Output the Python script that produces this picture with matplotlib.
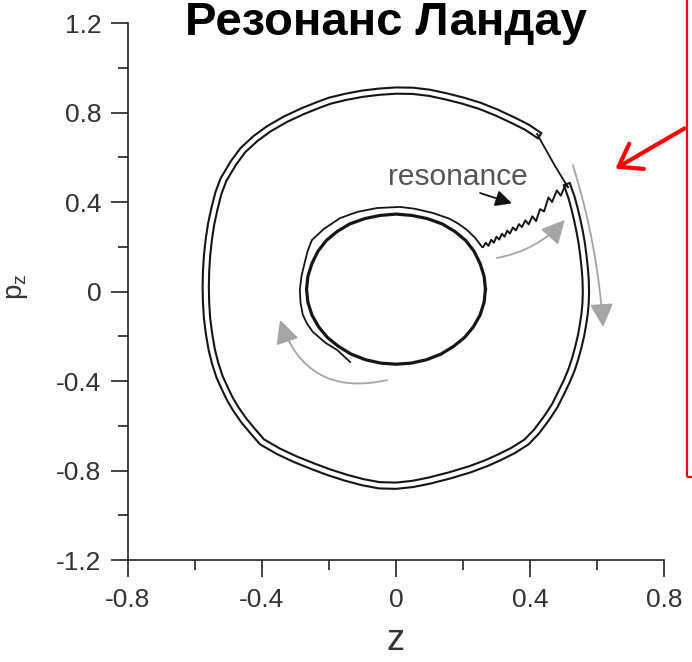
import matplotlib

matplotlib.use("Agg")
import matplotlib.pyplot as plt
import matplotlib.patheffects as pe
from matplotlib.patches import Rectangle, FancyArrowPatch

plt.rcParams["font.family"] = ["Liberation Sans", "DejaVu Sans"]
plt.rcParams["mathtext.fontset"] = "custom"
plt.rcParams["mathtext.rm"] = "Liberation Sans"
plt.rcParams["axes.unicode_minus"] = False

# оси
x_ticks = [-0.8, -0.4, 0.0, 0.4, 0.8]
x_tick_labels = ["-0.8", "-0.4", "0", "0.4", "0.8"]
x_minor = [-0.6, -0.2, 0.2, 0.6]
y_ticks = [-1.2, -0.8, -0.4, 0.0, 0.4, 0.8, 1.2]
y_tick_labels = ["-1.2", "-0.8", "-0.4", "0", "0.4", "0.8", "1.2"]
y_minor = [-1.0, -0.6, -0.2, 0.2, 0.6, 1.0]

# внешняя траектория (двойная линия), по часовой от точки резонанса
outer_z = [0.513, 0.524, 0.533, 0.541, 0.548, 0.554, 0.559, 0.563, 0.566, 0.567,
           0.566, 0.563, 0.558, 0.552, 0.544, 0.535, 0.524, 0.510, 0.494, 0.474,
           0.450, 0.420, 0.390, 0.350, 0.310, 0.270, 0.220, 0.160, 0.100, 0.050,
           0.000, -0.050, -0.100, -0.150, -0.200, -0.250, -0.300, -0.350, -0.400, -0.430,
           -0.455, -0.478, -0.496, -0.512, -0.527, -0.540, -0.550, -0.558, -0.564, -0.567,
           -0.568, -0.567, -0.564, -0.559, -0.552, -0.542, -0.530, -0.515, -0.485, -0.457,
           -0.420, -0.380, -0.330, -0.280, -0.230, -0.197, -0.150, -0.100, -0.050, 0.000,
           0.050, 0.100, 0.150, 0.200, 0.250, 0.300, 0.350, 0.390, 0.421]
outer_p = [0.467, 0.420, 0.370, 0.320, 0.270, 0.220, 0.165, 0.110, 0.055, 0.000,
           -0.050, -0.100, -0.150, -0.200, -0.250, -0.300, -0.350, -0.400, -0.450, -0.510,
           -0.565, -0.625, -0.672, -0.710, -0.740, -0.767, -0.795, -0.822, -0.845, -0.860,
           -0.868, -0.866, -0.852, -0.832, -0.808, -0.780, -0.750, -0.715, -0.672, -0.620,
           -0.575, -0.525, -0.480, -0.430, -0.380, -0.320, -0.260, -0.190, -0.120, -0.050,
           0.020, 0.090, 0.160, 0.230, 0.300, 0.370, 0.440, 0.500, 0.575, 0.632,
           0.683, 0.727, 0.770, 0.805, 0.835, 0.853, 0.870, 0.884, 0.893, 0.898,
           0.897, 0.888, 0.872, 0.853, 0.830, 0.800, 0.765, 0.735, 0.704]
# одинарный участок перед точкой резонанса
tail_z = [0.421, 0.445, 0.475, 0.513]
tail_p = [0.704, 0.640, 0.560, 0.467]

# внутренняя орбита
inner_z = [0.267, 0.263, 0.251, 0.233, 0.208, 0.176, 0.138, 0.093, 0.047, 0.000,
           -0.047, -0.093, -0.138, -0.176, -0.208, -0.233, -0.251, -0.263, -0.267, -0.263,
           -0.251, -0.231, -0.205, -0.172, -0.134, -0.091, -0.046, 0.000, 0.046, 0.091,
           0.134, 0.172, 0.205, 0.231, 0.251, 0.263, 0.267]
inner_p = [0.010, 0.068, 0.125, 0.180, 0.228, 0.268, 0.302, 0.326, 0.340, 0.346,
           0.340, 0.326, 0.302, 0.268, 0.228, 0.180, 0.125, 0.068, 0.010, -0.048,
           -0.105, -0.158, -0.205, -0.245, -0.280, -0.305, -0.320, -0.325, -0.320, -0.305,
           -0.280, -0.245, -0.205, -0.158, -0.105, -0.048, 0.010]
# вторая линия вокруг внутренней орбиты (слева сверху)
side_z = [0.257, 0.236, 0.212, 0.186, 0.160, 0.110, 0.055, 0.012, -0.057, -0.115,
          -0.167, -0.215, -0.251, -0.264, -0.272, -0.282, -0.287, -0.285, -0.278, -0.265,
          -0.248, -0.210, -0.176, -0.137]
side_p = [0.199, 0.240, 0.275, 0.303, 0.325, 0.351, 0.370, 0.378, 0.373, 0.356,
          0.328, 0.280, 0.230, 0.180, 0.132, 0.070, 0.007, -0.050, -0.105, -0.145,
          -0.181, -0.230, -0.261, -0.315]

# резонансный переход (зигзаг)
res_z = [0.260, 0.268, 0.276, 0.284, 0.292, 0.300, 0.308, 0.316, 0.324, 0.332,
         0.340, 0.349, 0.358, 0.367, 0.376, 0.386, 0.396, 0.407, 0.418, 0.430,
         0.442, 0.455, 0.466, 0.480, 0.492, 0.505, 0.513]
res_p = [0.199, 0.218, 0.204, 0.231, 0.218, 0.245, 0.232, 0.258, 0.245, 0.272,
         0.259, 0.286, 0.273, 0.301, 0.288, 0.318, 0.300, 0.336, 0.315, 0.368,
         0.358, 0.420, 0.400, 0.452, 0.428, 0.475, 0.467]

# серые стрелки: (хвост, острие, кривизна)
flow_arrows = [
    ((-0.027, -0.396), (-0.346, -0.127), -0.45),
    ((0.301, 0.150), (0.504, 0.320), 0.17),
    ((0.528, 0.565), (0.618, -0.159), -0.06),
]
res_label = "resonance"
res_label_pos = (0.185, 0.512)
res_arrow = ((0.251, 0.440), (0.346, 0.394))

fig = plt.figure(figsize=(6.92, 6.62), dpi=100)
ax = fig.add_axes([128 / 692, 102 / 662, 536 / 692, 537 / 662])

dark = "#151515"
ax.plot(outer_z, outer_p, color="white", lw=3.0, solid_joinstyle="round",
        path_effects=[pe.Stroke(linewidth=6.0, foreground=dark), pe.Normal()])
ax.plot(tail_z, tail_p, color=dark, lw=1.3)
ax.plot(side_z, side_p, color=dark, lw=1.3, solid_joinstyle="round")
ax.plot(inner_z, inner_p, color=dark, lw=2.3, solid_joinstyle="round")
ax.plot(res_z, res_p, color=dark, lw=1.4)

for (tz, tp), (hz, hp), rad in flow_arrows:
    ax.annotate("", xy=(hz, hp), xytext=(tz, tp),
                arrowprops=dict(arrowstyle="-|>,head_length=0.9,head_width=0.45",
                                color="#a5a5a5", lw=1.3, shrinkA=0, shrinkB=0,
                                mutation_scale=16,
                                connectionstyle=f"arc3,rad={rad}"))

ax.text(*res_label_pos, res_label, fontsize=21.5, color="#555555",
        ha="center", va="center")
ax.annotate("", xy=res_arrow[1], xytext=res_arrow[0],
            arrowprops=dict(arrowstyle="-|>,head_length=0.7,head_width=0.35",
                            color="#111111", lw=1.3, shrinkA=0, shrinkB=0,
                            mutation_scale=14))

ax.set_xlim(-0.8, 0.8)
ax.set_ylim(-1.2, 1.2)
ax.set_xticks(x_ticks)
ax.set_xticklabels(x_tick_labels)
ax.set_xticks(x_minor, minor=True)
ax.set_yticks(y_ticks)
ax.set_yticklabels(y_tick_labels)
ax.set_yticks(y_minor, minor=True)
ax.spines["top"].set_visible(False)
ax.spines["right"].set_visible(False)
for s in ("left", "bottom"):
    ax.spines[s].set_color("#222222")
    ax.spines[s].set_linewidth(1.2)
ax.tick_params(which="major", direction="out", length=12, width=1.2,
               color="#222222", labelsize=19, labelcolor="#333333")
ax.tick_params(which="minor", direction="out", length=7, width=1.2, color="#222222")
ax.tick_params(axis="y", which="major", pad=7)
ax.tick_params(axis="x", which="major", pad=8)

ax.set_xlabel("z", fontsize=26, color="#333333", va="center")
ax.xaxis.set_label_coords(0.5, -0.149)
ax.set_ylabel(r"$\mathregular{p_z}$", fontsize=20, color="#333333",
              va="center", ha="center")
ax.yaxis.set_label_coords(-0.207, 0.508)

fig.text(386 / 692, 1 - 1 / 662, "Резонанс Ландау", fontsize=34,
         fontweight="bold", ha="center", va="top")

# красная рамка и стрелка справа
fig.add_artist(Rectangle((687 / 692, 185 / 662), 0.2, 0.8, transform=fig.transFigure,
                         fill=False, edgecolor="red", lw=1.6))
fig.add_artist(FancyArrowPatch(
    (687 / 692, 535 / 662), (613 / 692, 492 / 662), transform=fig.transFigure,
    arrowstyle="->,head_length=0.5,head_width=0.35", mutation_scale=30,
    color="red", lw=3.0))

fig.savefig("out.png", dpi=100)
